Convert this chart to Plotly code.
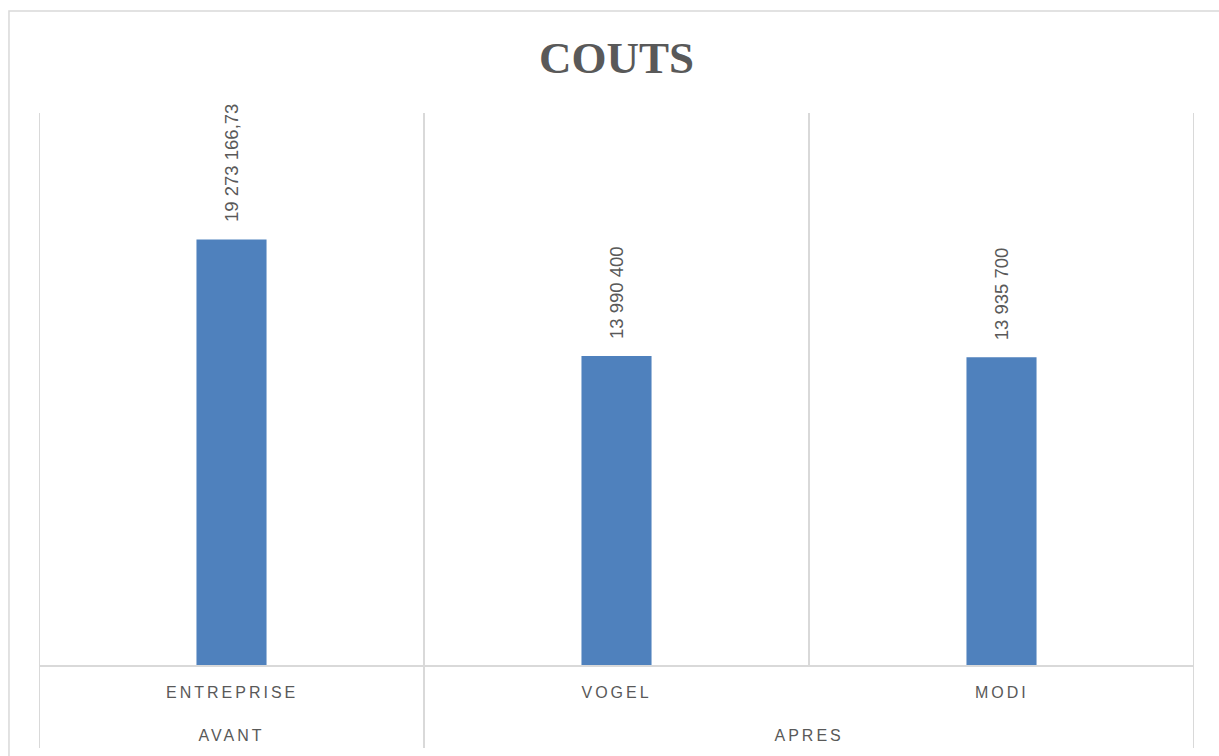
import plotly.graph_objects as go

# ---- data ----
groupes = ["AVANT", "APRES", "APRES"]
methodes = ["ENTREPRISE", "VOGEL", "MODI"]
couts = [19273166.73, 13990400, 13935700]
etiquettes = ["19 273 166,73", "13 990 400", "13 935 700"]

TXT = "#595959"
GRID = "#d9d9d9"
BAR = "#4f81bd"
SANS = "Liberation Sans, Arial, sans-serif"

fig = go.Figure()
fig.add_trace(go.Bar(
    x=methodes,
    y=couts,
    marker=dict(color=BAR, line=dict(width=0)),
    width=0.182,
    hoverinfo="skip",
))

# data labels (rotated)
for i, (v, t) in enumerate(zip(couts, etiquettes)):
    fig.add_annotation(
        x=i, y=v, xref="x", yref="y",
        text=t, showarrow=False, textangle=-90,
        xanchor="center", yanchor="bottom", yshift=15,
        font=dict(family=SANS, size=18.5, color=TXT),
    )

# first level category labels
for i, m in enumerate(methodes):
    fig.add_annotation(
        x=i, y=-0.0507, xref="x", yref="paper",
        text=m, showarrow=False, xanchor="center", yanchor="middle",
        font=dict(family=SANS, size=16, color=TXT),
    )

# second level (groups) labels and dividers
spans = []
start = 0
for i in range(1, len(groupes) + 1):
    if i == len(groupes) or groupes[i] != groupes[start]:
        spans.append((groupes[start], start, i - 1))
        start = i
bounds = set()
for g, a, b in spans:
    fig.add_annotation(
        x=(a + b) / 2, y=-0.1286, xref="x", yref="paper",
        text=g, showarrow=False, xanchor="center", yanchor="middle",
        font=dict(family=SANS, size=16, color=TXT),
    )
    bounds.add(a - 0.5)
    bounds.add(b + 0.5)
for xb in sorted(bounds):
    fig.add_shape(type="line", xref="x", yref="paper",
                  x0=xb, x1=xb, y0=1, y1=-0.1504,
                  line=dict(color=GRID, width=2))

# outer chart border
fig.add_shape(type="rect", xref="paper", yref="paper",
              x0=-0.026, x1=1.05, y0=-0.2, y1=1.1848,
              line=dict(color=GRID, width=1.5), layer="below")

fig.update_layout(
    width=1219, height=756, autosize=False,
    margin=dict(l=39, r=25, t=113, b=91),
    paper_bgcolor="white", plot_bgcolor="white",
    showlegend=False,
    title=dict(text="<b>COUTS</b>", x=0.5, xref="paper", xanchor="center",
               y=1 - 57 / 756, yanchor="middle",
               font=dict(family="Liberation Serif, Times New Roman, serif", size=45, color=TXT)),
    font=dict(family=SANS, size=16, color=TXT),
)

fig.update_xaxes(
    type="category",
    showgrid=True, gridcolor=GRID, gridwidth=2,
    tickson="boundaries",
    showline=True, linecolor=GRID, linewidth=2,
    ticks="", showticklabels=False,
    range=[-0.5, len(methodes) - 0.5],
    fixedrange=True,
)
fig.update_yaxes(
    range=[0, 25000000], showgrid=False, zeroline=False,
    showticklabels=False, showline=False, fixedrange=True,
)

post = """
document.querySelectorAll('.annotation-text').forEach(function(t){
  if (/^[A-Z]+$/.test(t.textContent.trim())) { t.style.letterSpacing = '3px'; }
});
"""

fig.write_html("out.html", post_script=post, config={"displayModeBar": False})
